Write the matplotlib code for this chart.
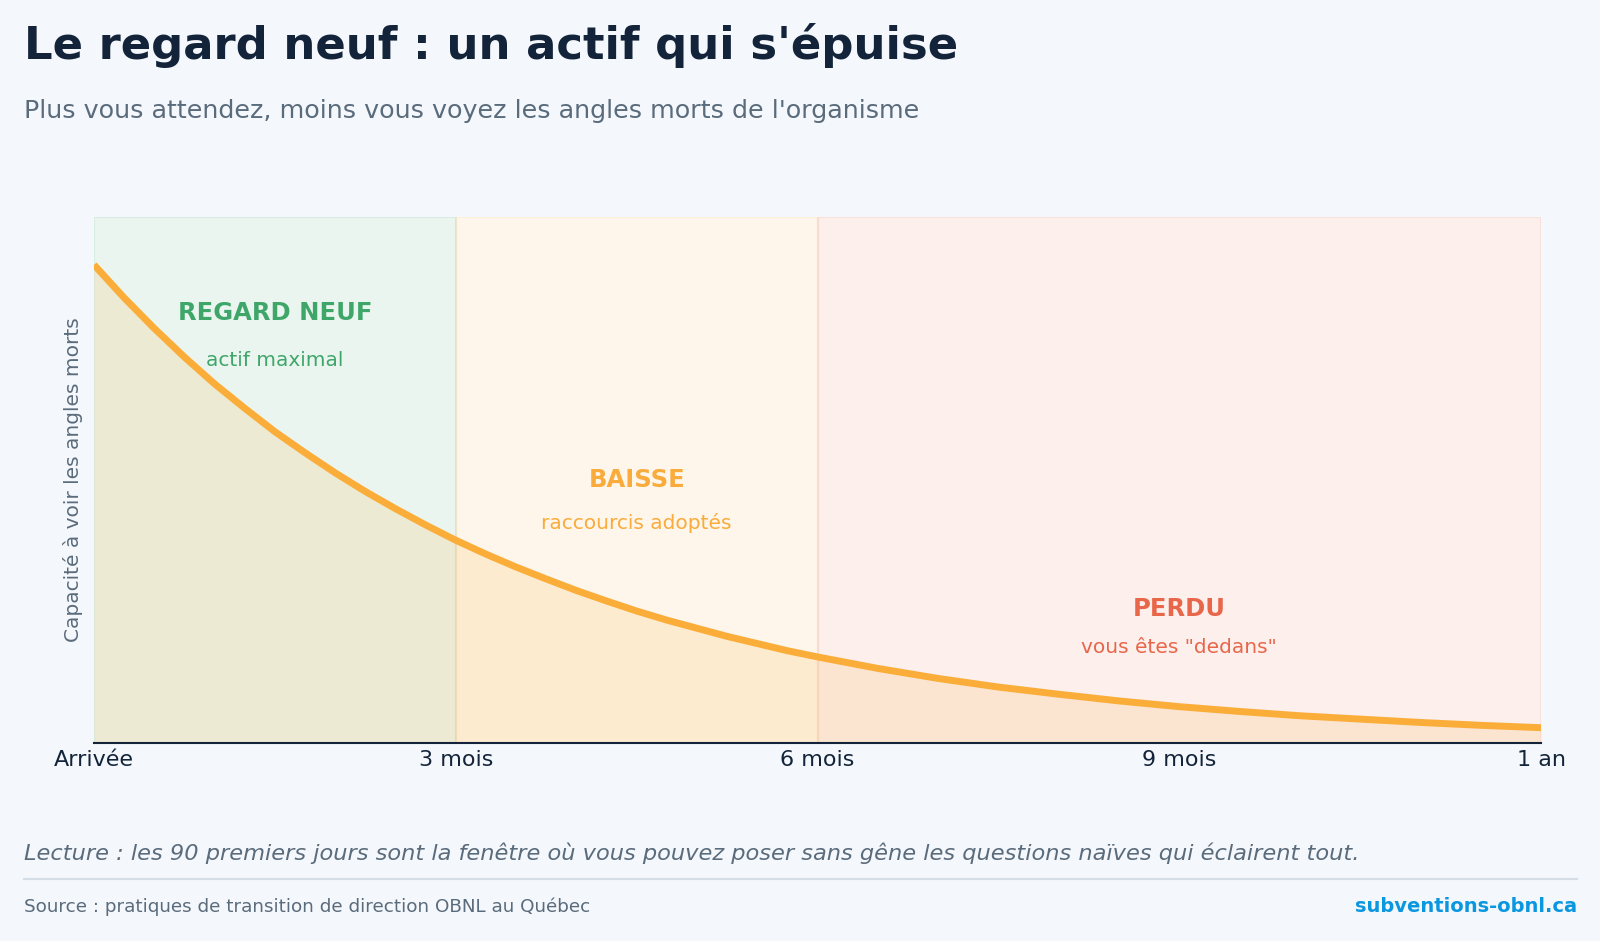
import matplotlib.pyplot as plt

# months since arrival and the "fresh eyes" capacity
months = [0, 0.25, 0.5, 0.75, 1, 1.25, 1.5, 1.75, 2, 2.25, 2.5, 2.75, 3,
          3.25, 3.5, 3.75, 4, 4.25, 4.5, 4.75, 5, 5.25, 5.5, 5.75, 6,
          6.5, 7, 7.5, 8, 8.5, 9, 9.5, 10, 10.5, 11, 11.5, 12]
capacity = [100, 93.1, 86.7, 80.7, 75.1, 70.0, 65.1, 60.7, 56.5, 52.6, 49.0, 45.6, 42.4,
            39.5, 36.8, 34.3, 31.9, 29.7, 27.6, 25.7, 24.0, 22.3, 20.8, 19.3, 18.0,
            15.6, 13.5, 11.7, 10.2, 8.8, 7.6, 6.6, 5.7, 5.0, 4.3, 3.7, 3.2]

tick_pos = [0, 3, 6, 9, 12]
tick_labels = ['Arrivée', '3 mois', '6 mois', '9 mois', '1 an']

zone_start = [0, 3, 6]
zone_end = [3, 6, 12]
zone_titles = ['REGARD NEUF', 'BAISSE', 'PERDU']
zone_notes = ['actif maximal', 'raccourcis adoptés', 'vous êtes "dedans"']
zone_x = [1.5, 4.5, 9]
zone_title_y = [90, 55, 28]
zone_note_y = [80, 46, 20]
zone_colors = ['#3fa66a', '#f9ab3b', '#e8664a']

BG = '#f4f7fb'
NAVY = '#13243a'
GREY = '#5a6b7c'
CURVE = '#fbad3a'

fig = plt.figure(figsize=(16, 9.41), dpi=100, facecolor=BG)
ax = fig.add_axes([0.05875, 0.2104, 0.9044, 0.559])
ax.set_facecolor('white')

for x0, x1, c in zip(zone_start, zone_end, zone_colors):
    ax.axvspan(x0, x1, facecolor=c, edgecolor=c, alpha=0.1, lw=1.5, zorder=0)

ax.fill_between(months, 0, capacity, color=CURVE, alpha=0.15, lw=0, zorder=1)
ax.plot(months, capacity, color=CURVE, lw=5, solid_joinstyle='round',
        solid_capstyle='butt', zorder=3)

for x, t, n, ty, ny, c in zip(zone_x, zone_titles, zone_notes, zone_title_y, zone_note_y, zone_colors):
    ax.text(x, ty, t, ha='center', va='center', fontsize=17.5, fontweight='bold', color=c)
    ax.text(x, ny, n, ha='center', va='center', fontsize=14.5, color=c)

ax.set_xlim(0, 12)
ax.set_ylim(0, 110)
ax.set_xticks(tick_pos)
ax.set_xticklabels(tick_labels, fontsize=16, color=NAVY)
ax.set_yticks([])
ax.tick_params(axis='x', length=0, pad=5)
for s in ['top', 'right', 'left']:
    ax.spines[s].set_visible(False)
ax.spines['bottom'].set_color(NAVY)
ax.spines['bottom'].set_linewidth(1.5)
ax.set_ylabel('Capacité à voir les angles morts', fontsize=14.5, color=GREY, labelpad=8)

fig.text(23.5 / 1600, 1 - 45 / 941, "Le regard neuf : un actif qui s'épuise",
         fontsize=32.4, fontweight='bold', color=NAVY, va='center')
fig.text(23.5 / 1600, 1 - 111 / 941, "Plus vous attendez, moins vous voyez les angles morts de l'organisme",
         fontsize=18.3, color=GREY, va='center')
fig.text(23.5 / 1600, 1 - 853 / 941,
         "Lecture : les 90 premiers jours sont la fenêtre où vous pouvez poser sans gêne les questions naïves qui éclairent tout.",
         fontsize=16.2, style='italic', color=GREY, va='center')
fig.add_artist(plt.Line2D([23.5 / 1600, 1577 / 1600], [1 - 879 / 941, 1 - 879 / 941],
                          color='#d5dde6', lw=1.5, transform=fig.transFigure))
fig.text(23.5 / 1600, 1 - 907 / 941, 'Source : pratiques de transition de direction OBNL au Québec',
         fontsize=13.2, color=GREY, va='center')
fig.text(1577 / 1600, 1 - 907 / 941, 'subventions-obnl.ca',
         fontsize=14, fontweight='bold', color='#0a97e0', va='center', ha='right')

fig.savefig('out.png', dpi=100, facecolor=BG)
